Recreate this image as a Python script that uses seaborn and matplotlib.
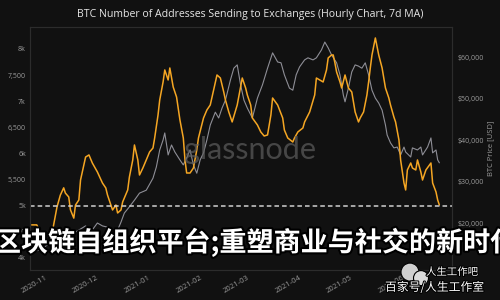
import matplotlib
matplotlib.use("Agg")
import matplotlib.pyplot as plt
import matplotlib.patheffects as pe
import matplotlib.dates as mdates
from matplotlib.patches import Ellipse
from matplotlib.ticker import FuncFormatter, FixedLocator
import seaborn as sns
import pandas as pd

TITLE = "BTC Number of Addresses Sending to Exchanges (Hourly Chart, 7d MA)"
RIGHT_LABEL = "BTC Price [USD]"
WATERMARK = "glassnode"
OVERLAY = "区块链自组织平台;重塑商业与社交的新时代"
CREDIT_1 = "人生工作吧"
CREDIT_2 = "百家号/人生工作室"
REF_LEVEL = 5000

addr_dates = [
    "2020-10-24", "2020-10-27", "2020-10-30", "2020-11-02", "2020-11-04", "2020-11-06",
    "2020-11-08", "2020-11-10", "2020-11-12", "2020-11-13", "2020-11-15", "2020-11-16",
    "2020-11-18", "2020-11-19", "2020-11-21", "2020-11-22", "2020-11-25", "2020-11-27",
    "2020-11-29", "2020-12-02", "2020-12-05", "2020-12-07", "2020-12-08", "2020-12-11",
    "2020-12-13", "2020-12-14", "2020-12-16", "2020-12-17", "2020-12-20", "2020-12-21",
    "2020-12-23", "2020-12-24", "2020-12-26", "2020-12-27", "2020-12-29", "2020-12-31",
    "2021-01-02", "2021-01-04", "2021-01-05", "2021-01-07", "2021-01-08", "2021-01-10",
    "2021-01-11", "2021-01-13", "2021-01-14", "2021-01-16", "2021-01-18", "2021-01-20",
    "2021-01-22", "2021-01-23", "2021-01-24", "2021-01-26", "2021-01-28", "2021-01-30",
    "2021-01-31", "2021-02-03", "2021-02-05", "2021-02-07", "2021-02-09", "2021-02-11",
    "2021-02-13", "2021-02-15", "2021-02-16", "2021-02-18", "2021-02-20", "2021-02-23",
    "2021-02-26", "2021-02-28", "2021-03-01", "2021-03-03", "2021-03-04", "2021-03-07",
    "2021-03-09", "2021-03-11", "2021-03-13", "2021-03-15", "2021-03-16", "2021-03-19",
    "2021-03-22", "2021-03-23", "2021-03-25", "2021-03-28", "2021-03-29", "2021-03-31",
    "2021-04-03", "2021-04-04", "2021-04-07", "2021-04-10", "2021-04-11", "2021-04-13",
    "2021-04-15", "2021-04-17", "2021-04-18", "2021-04-20", "2021-04-21", "2021-04-22",
    "2021-04-23", "2021-04-25", "2021-04-26", "2021-04-28", "2021-04-30", "2021-05-02",
    "2021-05-04", "2021-05-06", "2021-05-07", "2021-05-09", "2021-05-11", "2021-05-12",
    "2021-05-13", "2021-05-14", "2021-05-16", "2021-05-18", "2021-05-20", "2021-05-22",
    "2021-05-24", "2021-05-25", "2021-05-27", "2021-05-28", "2021-05-30", "2021-05-31",
    "2021-06-02", "2021-06-03", "2021-06-04", "2021-06-06", "2021-06-07", "2021-06-09",
    "2021-06-10", "2021-06-12", "2021-06-13", "2021-06-15", "2021-06-18", "2021-06-19",
    "2021-06-21", "2021-06-22", "2021-06-23",
]
addr_values = [
    4630, 4630, 4440, 4340, 4280, 4630,
    4970, 5200, 5340, 5240, 5165, 4920,
    4760, 5010, 5107, 5490, 5930, 5970,
    5816, 5644, 5433, 5337, 5203, 4916,
    5011, 4858, 4916, 5069, 5299, 5548,
    5874, 6161, 5874, 5586, 5720, 5874,
    6027, 6103, 6295, 6736, 7023, 7368,
    7598, 7406, 7636, 7272, 7080, 6640,
    6295, 5874, 5624, 5624, 5720, 6065,
    6295, 6678, 6831, 6927, 7215, 7502,
    7444, 7176, 7023, 6793, 6602, 6927,
    7444, 7253, 7119, 6927, 6678, 6544,
    6410, 6333, 6353, 6736, 7061, 6927,
    6678, 6448, 6295, 6218, 6295, 6410,
    6487, 6602, 6793, 7119, 7444, 7406,
    7368, 7598, 7828, 7885, 7885, 7732,
    7559, 7368, 7253, 7502, 7253, 7176,
    6793, 6602, 6678, 6793, 7119, 7368,
    7636, 7885, 8211, 7885, 7636, 7253,
    7061, 6927, 6697, 6602, 6257, 5874,
    5433, 5299, 5682, 5816, 5720, 5682,
    5874, 5644, 5490, 5682, 5816, 5433,
    5261, 5107, 5011,
]

price_dates = [
    "2020-10-23", "2020-10-29", "2020-11-04", "2020-11-10", "2020-11-16", "2020-11-21",
    "2020-11-25", "2020-11-28", "2020-12-02", "2020-12-05", "2020-12-08", "2020-12-11",
    "2020-12-14", "2020-12-16", "2020-12-18", "2020-12-21", "2020-12-24", "2020-12-27",
    "2020-12-31", "2021-01-04", "2021-01-06", "2021-01-08", "2021-01-10", "2021-01-11",
    "2021-01-13", "2021-01-15", "2021-01-17", "2021-01-20", "2021-01-22", "2021-01-24",
    "2021-01-26", "2021-01-28", "2021-01-30", "2021-02-01", "2021-02-03", "2021-02-05",
    "2021-02-07", "2021-02-10", "2021-02-12", "2021-02-14", "2021-02-16", "2021-02-19",
    "2021-02-21", "2021-02-23", "2021-02-25", "2021-02-27", "2021-03-01", "2021-03-04",
    "2021-03-07", "2021-03-10", "2021-03-13", "2021-03-16", "2021-03-19", "2021-03-21",
    "2021-03-23", "2021-03-26", "2021-03-28", "2021-03-30", "2021-04-01", "2021-04-04",
    "2021-04-06", "2021-04-09", "2021-04-11", "2021-04-14", "2021-04-16", "2021-04-18",
    "2021-04-20", "2021-04-23", "2021-04-25", "2021-04-27", "2021-04-28", "2021-04-30",
    "2021-05-02", "2021-05-04", "2021-05-06", "2021-05-08", "2021-05-10", "2021-05-12",
    "2021-05-14", "2021-05-16", "2021-05-18", "2021-05-20", "2021-05-22", "2021-05-23",
    "2021-05-25", "2021-05-27", "2021-05-29", "2021-05-31", "2021-06-02", "2021-06-03",
    "2021-06-06", "2021-06-07", "2021-06-10", "2021-06-12", "2021-06-13", "2021-06-16",
    "2021-06-18", "2021-06-19", "2021-06-21", "2021-06-22", "2021-06-23",
]
price_values = [
    13000, 13500, 15200, 14900, 17100, 18300,
    19300, 17800, 20000, 19300, 19000, 18500,
    18300, 20200, 22400, 23900, 25500, 27200,
    27900, 30800, 33500, 37600, 40000, 41700,
    36400, 38800, 37100, 35200, 34000, 35700,
    37600, 34000, 32000, 35200, 36900, 40000,
    43600, 46700, 45300, 47700, 49600, 54500,
    57300, 58100, 53300, 49600, 47700, 45300,
    50100, 53300, 57300, 61000, 58800, 58600,
    55700, 52500, 52000, 55700, 57600, 59300,
    59800, 59300, 59800, 61700, 63600, 62200,
    60500, 58600, 55700, 50800, 49200, 52500,
    56400, 58100, 57800, 57300, 58600, 55700,
    52000, 50100, 48900, 47200, 43600, 41200,
    39300, 38100, 38300, 36400, 38300, 37100,
    35900, 38100, 37600, 38300, 36400, 38300,
    40500, 36900, 37600, 35200, 34500,
]

left_ticks = [4000, 4500, 5000, 5500, 6000, 6500, 7000, 7500, 8000]
right_ticks = [20000, 30000, 40000, 50000, 60000]

BG = "#111111"
ORANGE = "#f5a623"
GRAY = "#8e8e96"
TICK = "#9a9a9a"

sns.set_theme(style="dark")
plt.rcParams["font.family"] = ["Open Sans", "DejaVu Sans"]

addr = pd.DataFrame({"date": pd.to_datetime(addr_dates), "value": addr_values})
price = pd.DataFrame({"date": pd.to_datetime(price_dates), "value": price_values})

fig = plt.figure(figsize=(5, 3), dpi=100, facecolor=BG)
ax = fig.add_axes([0.06, 0.10, 0.844, 0.81])
ax2 = ax.twinx()
ax.set_zorder(ax2.get_zorder() + 1)
ax.patch.set_visible(False)
ax2.set_facecolor(BG)

sns.lineplot(data=price, x="date", y="value", ax=ax2, color=GRAY, linewidth=0.8)
sns.lineplot(data=addr, x="date", y="value", ax=ax, color=ORANGE, linewidth=1.1)
ax.axhline(REF_LEVEL, color="#d0d0d0", linestyle=(0, (3, 2)), linewidth=1.1)

ax.set_xlim(pd.Timestamp("2020-10-23"), pd.Timestamp("2021-06-30 12:00"))
ax.set_ylim(3766, 8421)
ax2.set_ylim(8675, 67229)

ax.yaxis.set_major_locator(FixedLocator(left_ticks))
ax.yaxis.set_major_formatter(FuncFormatter(
    lambda v, p: f"{int(v/1000)}k" if v % 1000 == 0 else f"{int(v):,}"))
ax2.yaxis.set_major_locator(FixedLocator(right_ticks))
ax2.yaxis.set_major_formatter(FuncFormatter(lambda v, p: f"${int(v):,}"))

ax.xaxis.set_major_locator(mdates.MonthLocator())
ax.xaxis.set_major_formatter(mdates.DateFormatter("%Y-%m"))

ax.set_xlabel("")
ax.set_ylabel("")
ax2.set_xlabel("")
ax2.set_ylabel(RIGHT_LABEL, color=TICK, fontsize=5.5, rotation=90)
ax2.yaxis.set_label_coords(1.083, 0.5)

for a in (ax, ax2):
    a.grid(False)
    for s in a.spines.values():
        s.set_color("#2c2c2c")
        s.set_linewidth(0.8)

ax.tick_params(axis="y", colors=TICK, labelsize=5, length=0, pad=3)
ax2.tick_params(axis="y", colors=TICK, labelsize=5, length=0, pad=4)
ax.tick_params(axis="x", colors=TICK, labelsize=5.5, length=0, pad=3, labelrotation=30)
for lab in ax.get_xticklabels():
    lab.set_horizontalalignment("right")
    lab.set_rotation_mode("anchor")

fig.text(0.5, 0.95, TITLE, ha="center", va="center", color="#e6e6e6", fontsize=7.6)

fig.text(0.5, 0.5, WATERMARK, ha="center", va="center", color="#5e5e5e",
         alpha=0.7, fontsize=22, family=["Lato", "DejaVu Sans"])

stroke = [pe.withStroke(linewidth=3, foreground="black")]
fig.text(0.512, 0.192, OVERLAY, ha="center", va="center", color="white",
         fontsize=19.5, fontweight="bold", family=["Noto Sans CJK SC", "DejaVu Sans"],
         path_effects=stroke)

fig.add_artist(Ellipse((0.820, 0.093), 0.036, 0.06, transform=fig.transFigure,
                       facecolor="#cfcfcf", edgecolor="black", linewidth=0.8, zorder=5))
fig.add_artist(Ellipse((0.842, 0.073), 0.030, 0.05, transform=fig.transFigure,
                       facecolor="#dcdcdc", edgecolor="black", linewidth=0.8, zorder=5))
thin = [pe.withStroke(linewidth=1.5, foreground="black")]
fig.text(0.852, 0.093, CREDIT_1, ha="left", va="center", color="white", fontsize=7.5,
         family=["Noto Sans CJK SC", "DejaVu Sans"], path_effects=thin, zorder=6)
fig.text(0.770, 0.042, CREDIT_2, ha="left", va="center", color="white", fontsize=8.5,
         family=["Noto Sans CJK SC", "DejaVu Sans"], path_effects=thin, zorder=6)

fig.savefig("out.png", dpi=100, facecolor=BG)
